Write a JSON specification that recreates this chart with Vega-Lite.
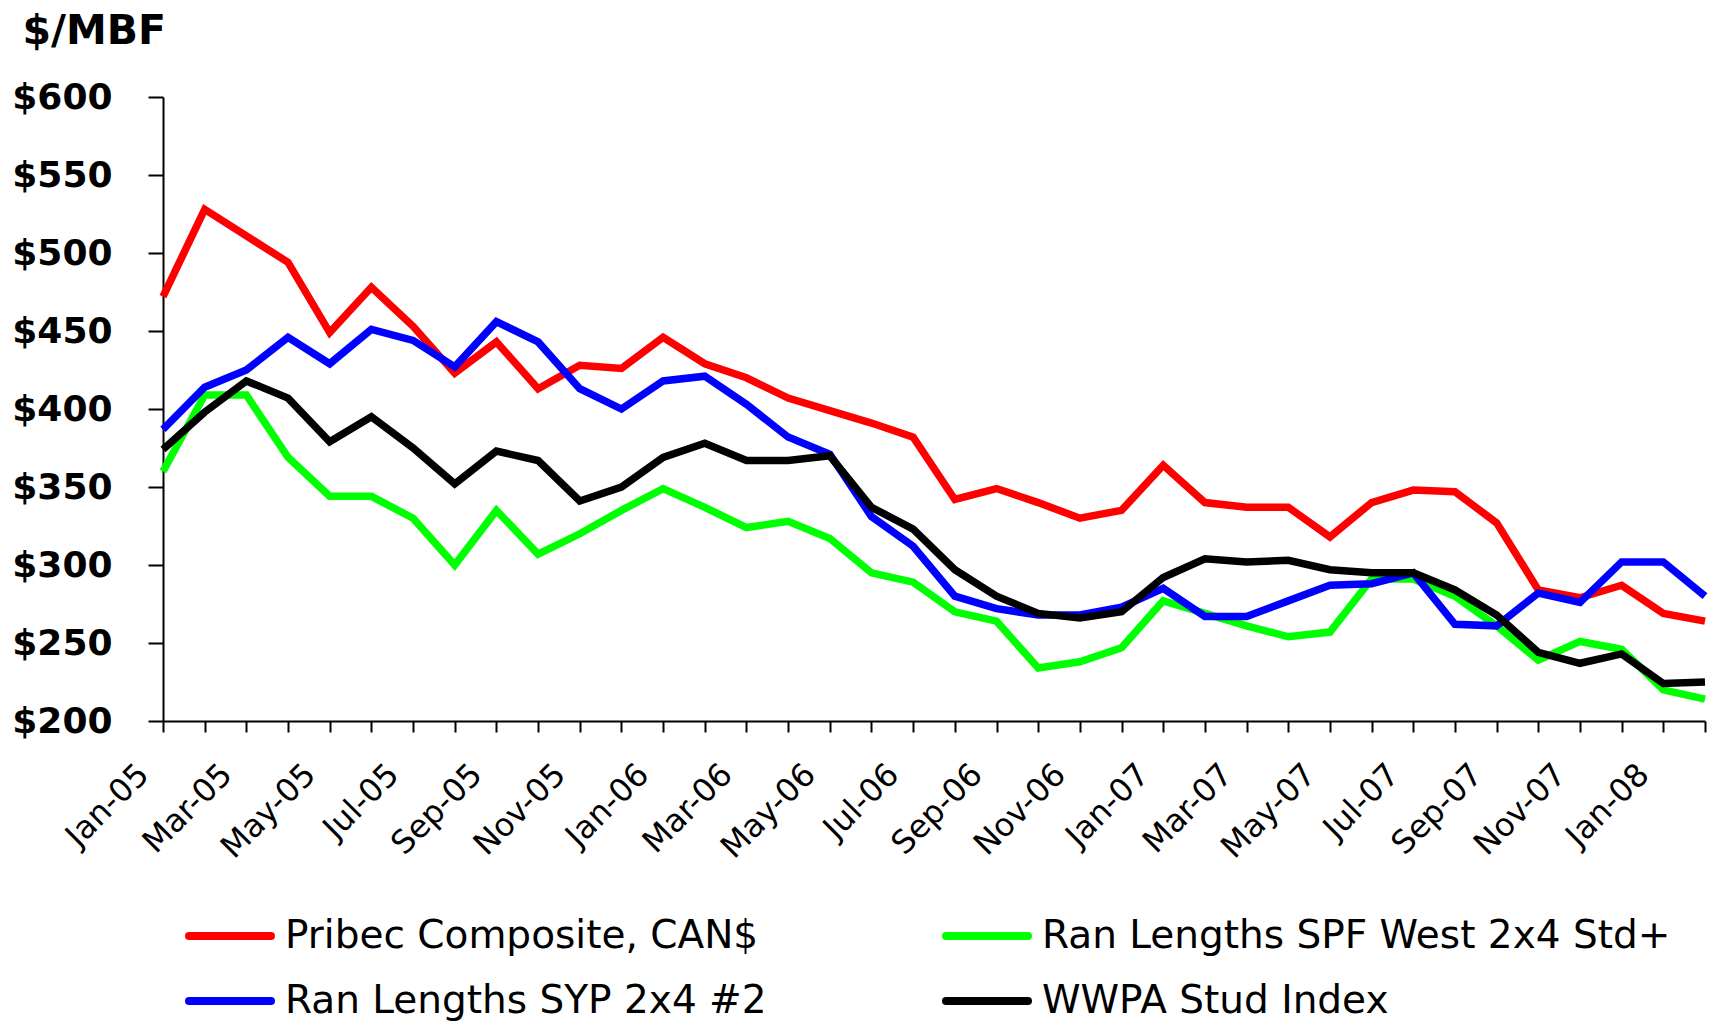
{
  "$schema": "https://vega.github.io/schema/vega-lite/v6.json",
  "width": 1542,
  "height": 624,
  "autosize": {"type": "none"},
  "padding": {"left": 163, "top": 97, "right": 6, "bottom": 302},
  "background": "white",
  "config": {"view": {"stroke": null}, "font": "DejaVu Sans"},
  "datasets": {
    "prices": [
      {"month":"Jan-05","series":"Pribec Composite, CAN$","price":472},
      {"month":"Feb-05","series":"Pribec Composite, CAN$","price":528},
      {"month":"Mar-05","series":"Pribec Composite, CAN$","price":511},
      {"month":"Apr-05","series":"Pribec Composite, CAN$","price":494},
      {"month":"May-05","series":"Pribec Composite, CAN$","price":449},
      {"month":"Jun-05","series":"Pribec Composite, CAN$","price":478},
      {"month":"Jul-05","series":"Pribec Composite, CAN$","price":453},
      {"month":"Aug-05","series":"Pribec Composite, CAN$","price":423},
      {"month":"Sep-05","series":"Pribec Composite, CAN$","price":443},
      {"month":"Oct-05","series":"Pribec Composite, CAN$","price":413},
      {"month":"Nov-05","series":"Pribec Composite, CAN$","price":428},
      {"month":"Dec-05","series":"Pribec Composite, CAN$","price":426},
      {"month":"Jan-06","series":"Pribec Composite, CAN$","price":446},
      {"month":"Feb-06","series":"Pribec Composite, CAN$","price":429},
      {"month":"Mar-06","series":"Pribec Composite, CAN$","price":420},
      {"month":"Apr-06","series":"Pribec Composite, CAN$","price":407},
      {"month":"May-06","series":"Pribec Composite, CAN$","price":399},
      {"month":"Jun-06","series":"Pribec Composite, CAN$","price":391},
      {"month":"Jul-06","series":"Pribec Composite, CAN$","price":382},
      {"month":"Aug-06","series":"Pribec Composite, CAN$","price":342},
      {"month":"Sep-06","series":"Pribec Composite, CAN$","price":349},
      {"month":"Oct-06","series":"Pribec Composite, CAN$","price":340},
      {"month":"Nov-06","series":"Pribec Composite, CAN$","price":330},
      {"month":"Dec-06","series":"Pribec Composite, CAN$","price":335},
      {"month":"Jan-07","series":"Pribec Composite, CAN$","price":364},
      {"month":"Feb-07","series":"Pribec Composite, CAN$","price":340},
      {"month":"Mar-07","series":"Pribec Composite, CAN$","price":337},
      {"month":"Apr-07","series":"Pribec Composite, CAN$","price":337},
      {"month":"May-07","series":"Pribec Composite, CAN$","price":318},
      {"month":"Jun-07","series":"Pribec Composite, CAN$","price":340},
      {"month":"Jul-07","series":"Pribec Composite, CAN$","price":348},
      {"month":"Aug-07","series":"Pribec Composite, CAN$","price":347},
      {"month":"Sep-07","series":"Pribec Composite, CAN$","price":327},
      {"month":"Oct-07","series":"Pribec Composite, CAN$","price":284},
      {"month":"Nov-07","series":"Pribec Composite, CAN$","price":279},
      {"month":"Dec-07","series":"Pribec Composite, CAN$","price":287},
      {"month":"Jan-08","series":"Pribec Composite, CAN$","price":269},
      {"month":"Feb-08","series":"Pribec Composite, CAN$","price":264},

      {"month":"Jan-05","series":"Ran Lengths SPF West 2x4 Std+","price":360},
      {"month":"Feb-05","series":"Ran Lengths SPF West 2x4 Std+","price":409},
      {"month":"Mar-05","series":"Ran Lengths SPF West 2x4 Std+","price":409},
      {"month":"Apr-05","series":"Ran Lengths SPF West 2x4 Std+","price":369},
      {"month":"May-05","series":"Ran Lengths SPF West 2x4 Std+","price":344},
      {"month":"Jun-05","series":"Ran Lengths SPF West 2x4 Std+","price":344},
      {"month":"Jul-05","series":"Ran Lengths SPF West 2x4 Std+","price":330},
      {"month":"Aug-05","series":"Ran Lengths SPF West 2x4 Std+","price":300},
      {"month":"Sep-05","series":"Ran Lengths SPF West 2x4 Std+","price":335},
      {"month":"Oct-05","series":"Ran Lengths SPF West 2x4 Std+","price":307},
      {"month":"Nov-05","series":"Ran Lengths SPF West 2x4 Std+","price":320},
      {"month":"Dec-05","series":"Ran Lengths SPF West 2x4 Std+","price":335},
      {"month":"Jan-06","series":"Ran Lengths SPF West 2x4 Std+","price":349},
      {"month":"Feb-06","series":"Ran Lengths SPF West 2x4 Std+","price":337},
      {"month":"Mar-06","series":"Ran Lengths SPF West 2x4 Std+","price":324},
      {"month":"Apr-06","series":"Ran Lengths SPF West 2x4 Std+","price":328},
      {"month":"May-06","series":"Ran Lengths SPF West 2x4 Std+","price":317},
      {"month":"Jun-06","series":"Ran Lengths SPF West 2x4 Std+","price":295},
      {"month":"Jul-06","series":"Ran Lengths SPF West 2x4 Std+","price":289},
      {"month":"Aug-06","series":"Ran Lengths SPF West 2x4 Std+","price":270},
      {"month":"Sep-06","series":"Ran Lengths SPF West 2x4 Std+","price":264},
      {"month":"Oct-06","series":"Ran Lengths SPF West 2x4 Std+","price":234},
      {"month":"Nov-06","series":"Ran Lengths SPF West 2x4 Std+","price":238},
      {"month":"Dec-06","series":"Ran Lengths SPF West 2x4 Std+","price":247},
      {"month":"Jan-07","series":"Ran Lengths SPF West 2x4 Std+","price":277},
      {"month":"Feb-07","series":"Ran Lengths SPF West 2x4 Std+","price":269},
      {"month":"Mar-07","series":"Ran Lengths SPF West 2x4 Std+","price":261},
      {"month":"Apr-07","series":"Ran Lengths SPF West 2x4 Std+","price":254},
      {"month":"May-07","series":"Ran Lengths SPF West 2x4 Std+","price":257},
      {"month":"Jun-07","series":"Ran Lengths SPF West 2x4 Std+","price":291},
      {"month":"Jul-07","series":"Ran Lengths SPF West 2x4 Std+","price":291},
      {"month":"Aug-07","series":"Ran Lengths SPF West 2x4 Std+","price":280},
      {"month":"Sep-07","series":"Ran Lengths SPF West 2x4 Std+","price":261},
      {"month":"Oct-07","series":"Ran Lengths SPF West 2x4 Std+","price":239},
      {"month":"Nov-07","series":"Ran Lengths SPF West 2x4 Std+","price":251},
      {"month":"Dec-07","series":"Ran Lengths SPF West 2x4 Std+","price":246},
      {"month":"Jan-08","series":"Ran Lengths SPF West 2x4 Std+","price":220},
      {"month":"Feb-08","series":"Ran Lengths SPF West 2x4 Std+","price":214},

      {"month":"Jan-05","series":"Ran Lengths SYP 2x4 #2","price":387},
      {"month":"Feb-05","series":"Ran Lengths SYP 2x4 #2","price":414},
      {"month":"Mar-05","series":"Ran Lengths SYP 2x4 #2","price":425},
      {"month":"Apr-05","series":"Ran Lengths SYP 2x4 #2","price":446},
      {"month":"May-05","series":"Ran Lengths SYP 2x4 #2","price":429},
      {"month":"Jun-05","series":"Ran Lengths SYP 2x4 #2","price":451},
      {"month":"Jul-05","series":"Ran Lengths SYP 2x4 #2","price":444},
      {"month":"Aug-05","series":"Ran Lengths SYP 2x4 #2","price":427},
      {"month":"Sep-05","series":"Ran Lengths SYP 2x4 #2","price":456},
      {"month":"Oct-05","series":"Ran Lengths SYP 2x4 #2","price":443},
      {"month":"Nov-05","series":"Ran Lengths SYP 2x4 #2","price":413},
      {"month":"Dec-05","series":"Ran Lengths SYP 2x4 #2","price":400},
      {"month":"Jan-06","series":"Ran Lengths SYP 2x4 #2","price":418},
      {"month":"Feb-06","series":"Ran Lengths SYP 2x4 #2","price":421},
      {"month":"Mar-06","series":"Ran Lengths SYP 2x4 #2","price":403},
      {"month":"Apr-06","series":"Ran Lengths SYP 2x4 #2","price":382},
      {"month":"May-06","series":"Ran Lengths SYP 2x4 #2","price":371},
      {"month":"Jun-06","series":"Ran Lengths SYP 2x4 #2","price":331},
      {"month":"Jul-06","series":"Ran Lengths SYP 2x4 #2","price":312},
      {"month":"Aug-06","series":"Ran Lengths SYP 2x4 #2","price":280},
      {"month":"Sep-06","series":"Ran Lengths SYP 2x4 #2","price":272},
      {"month":"Oct-06","series":"Ran Lengths SYP 2x4 #2","price":268},
      {"month":"Nov-06","series":"Ran Lengths SYP 2x4 #2","price":268},
      {"month":"Dec-06","series":"Ran Lengths SYP 2x4 #2","price":273},
      {"month":"Jan-07","series":"Ran Lengths SYP 2x4 #2","price":285},
      {"month":"Feb-07","series":"Ran Lengths SYP 2x4 #2","price":267},
      {"month":"Mar-07","series":"Ran Lengths SYP 2x4 #2","price":267},
      {"month":"Apr-07","series":"Ran Lengths SYP 2x4 #2","price":277},
      {"month":"May-07","series":"Ran Lengths SYP 2x4 #2","price":287},
      {"month":"Jun-07","series":"Ran Lengths SYP 2x4 #2","price":288},
      {"month":"Jul-07","series":"Ran Lengths SYP 2x4 #2","price":295},
      {"month":"Aug-07","series":"Ran Lengths SYP 2x4 #2","price":262},
      {"month":"Sep-07","series":"Ran Lengths SYP 2x4 #2","price":261},
      {"month":"Oct-07","series":"Ran Lengths SYP 2x4 #2","price":282},
      {"month":"Nov-07","series":"Ran Lengths SYP 2x4 #2","price":276},
      {"month":"Dec-07","series":"Ran Lengths SYP 2x4 #2","price":302},
      {"month":"Jan-08","series":"Ran Lengths SYP 2x4 #2","price":302},
      {"month":"Feb-08","series":"Ran Lengths SYP 2x4 #2","price":280},

      {"month":"Jan-05","series":"WWPA Stud Index","price":374},
      {"month":"Feb-05","series":"WWPA Stud Index","price":398},
      {"month":"Mar-05","series":"WWPA Stud Index","price":418},
      {"month":"Apr-05","series":"WWPA Stud Index","price":407},
      {"month":"May-05","series":"WWPA Stud Index","price":379},
      {"month":"Jun-05","series":"WWPA Stud Index","price":395},
      {"month":"Jul-05","series":"WWPA Stud Index","price":375},
      {"month":"Aug-05","series":"WWPA Stud Index","price":352},
      {"month":"Sep-05","series":"WWPA Stud Index","price":373},
      {"month":"Oct-05","series":"WWPA Stud Index","price":367},
      {"month":"Nov-05","series":"WWPA Stud Index","price":341},
      {"month":"Dec-05","series":"WWPA Stud Index","price":350},
      {"month":"Jan-06","series":"WWPA Stud Index","price":369},
      {"month":"Feb-06","series":"WWPA Stud Index","price":378},
      {"month":"Mar-06","series":"WWPA Stud Index","price":367},
      {"month":"Apr-06","series":"WWPA Stud Index","price":367},
      {"month":"May-06","series":"WWPA Stud Index","price":370},
      {"month":"Jun-06","series":"WWPA Stud Index","price":337},
      {"month":"Jul-06","series":"WWPA Stud Index","price":323},
      {"month":"Aug-06","series":"WWPA Stud Index","price":297},
      {"month":"Sep-06","series":"WWPA Stud Index","price":280},
      {"month":"Oct-06","series":"WWPA Stud Index","price":269},
      {"month":"Nov-06","series":"WWPA Stud Index","price":266},
      {"month":"Dec-06","series":"WWPA Stud Index","price":270},
      {"month":"Jan-07","series":"WWPA Stud Index","price":292},
      {"month":"Feb-07","series":"WWPA Stud Index","price":304},
      {"month":"Mar-07","series":"WWPA Stud Index","price":302},
      {"month":"Apr-07","series":"WWPA Stud Index","price":303},
      {"month":"May-07","series":"WWPA Stud Index","price":297},
      {"month":"Jun-07","series":"WWPA Stud Index","price":295},
      {"month":"Jul-07","series":"WWPA Stud Index","price":295},
      {"month":"Aug-07","series":"WWPA Stud Index","price":284},
      {"month":"Sep-07","series":"WWPA Stud Index","price":268},
      {"month":"Oct-07","series":"WWPA Stud Index","price":244},
      {"month":"Nov-07","series":"WWPA Stud Index","price":237},
      {"month":"Dec-07","series":"WWPA Stud Index","price":243},
      {"month":"Jan-08","series":"WWPA Stud Index","price":224},
      {"month":"Feb-08","series":"WWPA Stud Index","price":225}
    ]
  },
  "data": {"name": "prices"},
  "mark": {"type": "line", "strokeWidth": 7.5},
  "encoding": {
    "x": {
      "field": "month",
      "type": "ordinal",
      "sort": null,
      "scale": {"type": "point", "padding": 0},
      "axis": {
        "title": null,
        "grid": false,
        "labelAngle": -45,
        "labelAlign": "right",
        "labelBaseline": "middle",
        "labelFont": "DejaVu Sans",
        "labelFontSize": 32,
        "labelColor": "black",
        "labelPadding": 37,
        "labelOffset": -20,
        "labelOverlap": false,
        "labelBound": false,
        "labelLimit": 0,
        "labelExpr": "indexof(['Jan','Mar','May','Jul','Sep','Nov'], slice(datum.label,0,3)) >= 0 ? datum.label : ''",
        "tickSize": 11,
        "tickWidth": 2,
        "tickColor": "black",
        "domainColor": "black",
        "domainWidth": 2
      }
    },
    "y": {
      "field": "price",
      "type": "quantitative",
      "scale": {"domain": [200, 600], "nice": false, "zero": false},
      "axis": {
        "values": [200, 250, 300, 350, 400, 450, 500, 550, 600],
        "labelExpr": "'$' + datum.value",
        "grid": false,
        "labelFont": "DejaVu Sans",
        "labelFontSize": 36,
        "labelFontWeight": "bold",
        "labelColor": "black",
        "labelPadding": 36,
        "labelBaseline": "middle",
        "tickSize": 15,
        "tickWidth": 2,
        "tickColor": "black",
        "domainColor": "black",
        "domainWidth": 2,
        "title": "$/MBF",
        "titleAngle": 0,
        "titleAlign": "left",
        "titleBaseline": "alphabetic",
        "titleX": -141,
        "titleY": -54,
        "titleFont": "DejaVu Sans",
        "titleFontSize": 41,
        "titleFontWeight": "bold",
        "titleColor": "black"
      }
    },
    "color": {
      "field": "series",
      "type": "nominal",
      "scale": {
        "domain": ["Pribec Composite, CAN$", "Ran Lengths SPF West 2x4 Std+", "Ran Lengths SYP 2x4 #2", "WWPA Stud Index"],
        "range": ["#ff0000", "#00ff00", "#0000ff", "#000000"]
      },
      "legend": {
        "title": null,
        "orient": "none",
        "legendX": 22,
        "legendY": 794,
        "direction": "horizontal",
        "columns": 2,
        "padding": 0,
        "symbolType": "stroke",
        "symbolSize": 6724,
        "symbolStrokeWidth": 8,
        "labelFont": "DejaVu Sans",
        "labelFontSize": 39,
        "labelColor": "black",
        "labelOffset": 10,
        "labelLimit": 1000,
        "columnPadding": 163,
        "rowPadding": -24,
        "encode": {"symbols": {"update": {"strokeCap": {"value": "round"}}}}
      }
    }
  }
}
